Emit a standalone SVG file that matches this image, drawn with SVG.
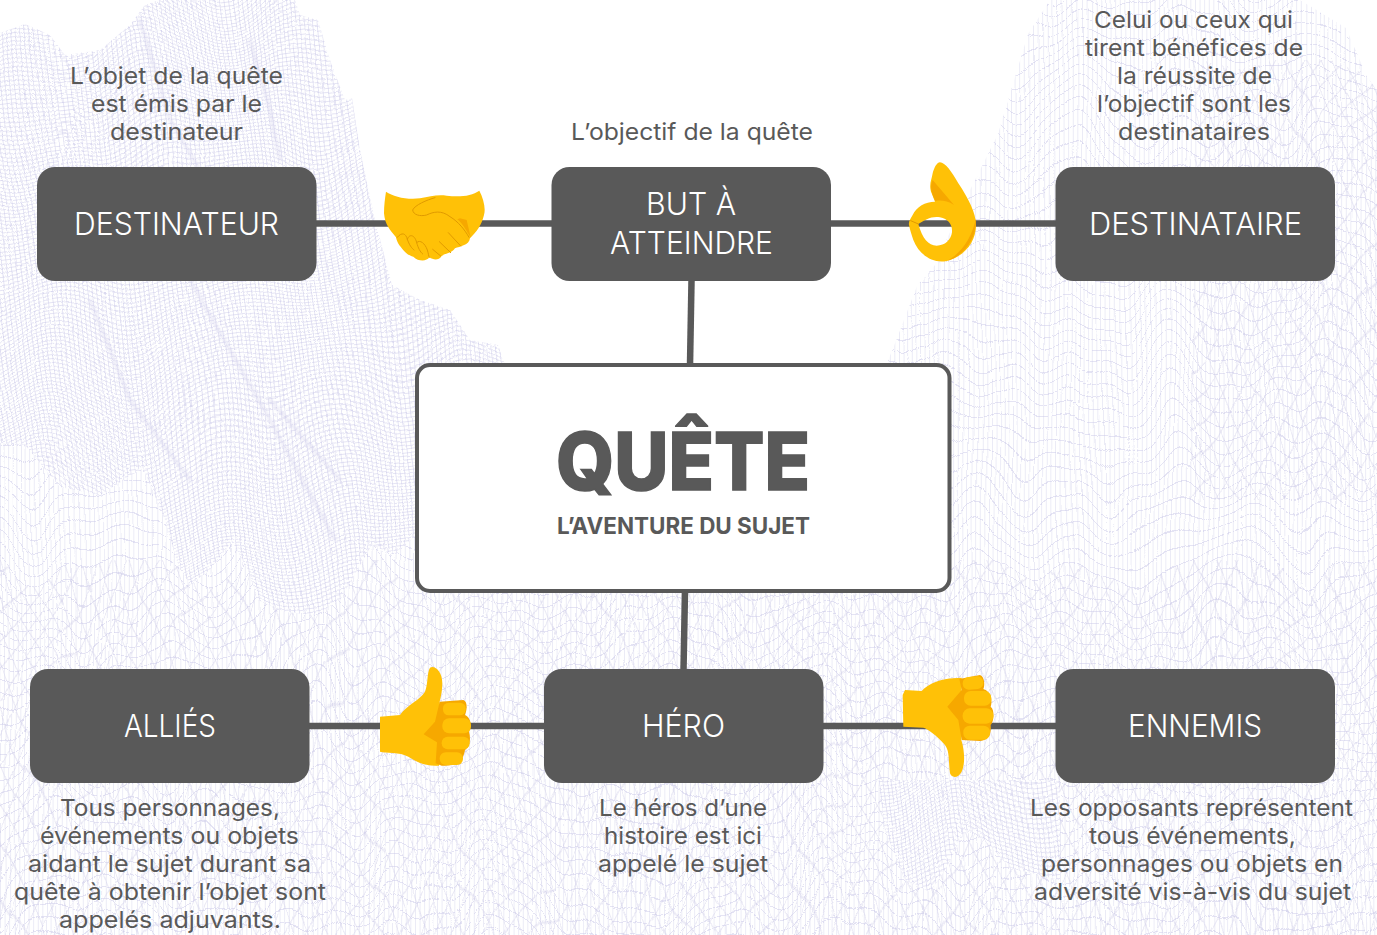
<svg xmlns="http://www.w3.org/2000/svg" width="1377" height="935" viewBox="0 0 1377 935">
<style>
.box{fill:#595959}
.t{font-family:"Inter","Liberation Sans",sans-serif;font-size:31px;font-weight:300;fill:#fff}
.d{font-family:"Inter","Liberation Sans",sans-serif;font-size:23.5px;font-weight:400;fill:#595959}
.c{stroke:#595959;stroke-width:6.5;fill:none}
.sk{fill:#ffc107}
.dk{fill:#f6a800}
.ln{fill:none;stroke:#e09a00;stroke-width:3;stroke-linecap:round;stroke-linejoin:round}
.rid{fill:none;stroke:#d9d7ef;stroke-linecap:round}
</style>
<defs>
<pattern id="fine" width="4.6" height="4" patternUnits="userSpaceOnUse" patternTransform="rotate(-7)">
<path d="M0 0V4M0 0H4.6" stroke="#c4c2e6" stroke-width=".85" fill="none"/>
</pattern>
<pattern id="vert" width="4.6" height="13" patternUnits="userSpaceOnUse">
<path d="M0 0V13" stroke="#d0ceea" stroke-width=".85" fill="none"/>
<path d="M0 0H4.6" stroke="#cbc9e8" stroke-width="1" fill="none"/>
</pattern>
<pattern id="diagA" width="15" height="15" patternUnits="userSpaceOnUse" patternTransform="rotate(68)">
<path d="M0 0H15" stroke="#d0ceea" stroke-width=".9" fill="none"/>
</pattern>
<pattern id="diagB" width="15" height="15" patternUnits="userSpaceOnUse" patternTransform="rotate(-62)">
<path d="M0 0H15" stroke="#d0ceea" stroke-width=".9" fill="none"/>
</pattern>
<filter id="warpF" x="0" y="0" width="100%" height="100%" color-interpolation-filters="sRGB">
<feTurbulence type="fractalNoise" baseFrequency="0.011 0.005" numOctaves="1" seed="4"/>
<feColorMatrix values=".25 0 0 0 .375  0 1 0 0 0  0 0 1 0 0  0 0 0 0 1" result="n"/>
<feDisplacementMap in="SourceGraphic" in2="n" scale="110" xChannelSelector="R" yChannelSelector="G"/>
<feGaussianBlur stdDeviation=".3"/>
</filter>
<filter id="warpC" x="0" y="0" width="100%" height="100%" color-interpolation-filters="sRGB">
<feTurbulence type="fractalNoise" baseFrequency="0.013 0.004" numOctaves="2" seed="11"/>
<feColorMatrix values=".12 0 0 0 .44  0 1 0 0 0  0 0 1 0 0  0 0 0 0 1" result="n"/>
<feDisplacementMap in="SourceGraphic" in2="n" scale="130" xChannelSelector="R" yChannelSelector="G"/>
<feGaussianBlur stdDeviation=".25"/>
</filter>
<filter id="soft" x="-20%" y="-20%" width="140%" height="140%"><feGaussianBlur stdDeviation="1.4"/></filter>
<clipPath id="cLeft"><path d="M0 33L25 24L50 35L65 55L100 50L130 25L145 5L160 0H295L300 15L318 20L330 60L345 100L352 98L360 150L375 220L392 285L420 300L450 310L470 340L498 345L512 385V640H0Z"/></clipPath>
<clipPath id="cRight"><path d="M880 380L894 346L917 286L935 265L960 210L998 134L1028 34L1050 0H1300L1346 28L1367 77L1377 90V560H880Z"/></clipPath>
<clipPath id="cFront"><path d="M0 443L25 445L60 487L100 495L143 468L165 520L178 565L190 585L210 570L232 541L248 570L258 600L285 612L315 615L340 600L360 565L372 545L395 555L416 535L680 520L950 500H1377V935H0Z"/></clipPath>
<clipPath id="cPatch"><path d="M878 780H1060V880L1010 868L985 840L965 832L945 870L930 892L905 880L885 830Z"/></clipPath>
</defs>

<g id="background">
<rect width="1377" height="935" fill="#fff"/>
<g clip-path="url(#cLeft)">
<rect x="-70" y="-70" width="720" height="800" fill="url(#fine)" filter="url(#warpF)"/>
<g filter="url(#soft)" opacity=".55">
<path class="rid" stroke-width="3" d="M90 300L130 400L190 480"/>
<path class="rid" stroke-width="3" d="M190 280L270 420L335 540"/>
<path class="rid" stroke-width="3" d="M270 400L340 480"/>
<path class="rid" stroke-width="3" d="M140 20L170 120L200 170"/>
<path class="rid" stroke-width="3" d="M250 40L270 110L280 160"/>
</g>
</g>
<g clip-path="url(#cRight)">
<rect x="860" y="-70" width="580" height="690" fill="url(#vert)" filter="url(#warpC)"/>
<rect x="1190" y="60" width="260" height="560" fill="url(#diagA)" filter="url(#warpC)"/>
<rect x="1190" y="60" width="260" height="560" fill="url(#diagB)" filter="url(#warpC)"/>
</g>
<g clip-path="url(#cFront)">
<rect width="1377" height="935" fill="#fff"/>
<rect x="-70" y="400" width="1520" height="610" fill="url(#vert)" filter="url(#warpC)"/>
<rect x="-70" y="560" width="1520" height="450" fill="url(#diagA)" filter="url(#warpC)"/>
<rect x="-70" y="560" width="1520" height="450" fill="url(#diagB)" filter="url(#warpC)"/>
</g>
<g clip-path="url(#cPatch)">
<rect x="860" y="760" width="240" height="160" fill="#fff"/>
<rect x="800" y="700" width="340" height="260" fill="url(#fine)" filter="url(#warpF)"/>
</g>
</g>

<g id="connectors">
<path class="c" d="M316 223.5H552"/>
<path class="c" d="M831 223.5H1056"/>
<path class="c" d="M691.5 281L690 365"/>
<path class="c" d="M685 591L683.5 670"/>
<path class="c" d="M309 726H544"/>
<path class="c" d="M823 726H1056"/>
</g>

<g id="node-quete">
<rect x="417" y="365" width="532.5" height="226" rx="13" fill="#fff" stroke="#595959" stroke-width="4"/>
<text x="556" y="490" textLength="254" lengthAdjust="spacingAndGlyphs" font-family="Inter, 'Liberation Sans', sans-serif" font-size="80" font-weight="800" fill="#595959" stroke="#595959" stroke-width="1.5">QUÊTE</text>
<text x="557" y="534" textLength="253" lengthAdjust="spacingAndGlyphs" font-family="Inter, 'Liberation Sans', sans-serif" font-size="23" font-weight="700" fill="#595959">L’AVENTURE DU SUJET</text>
</g>

<g id="node-destinateur">
<rect class="box" x="37" y="167" width="279.5" height="114" rx="18"/>
<text class="t" x="74" y="235" textLength="205" lengthAdjust="spacingAndGlyphs">DESTINATEUR</text>
<text class="d" x="70" y="84" textLength="213" lengthAdjust="spacingAndGlyphs">L’objet de la quête</text>
<text class="d" x="91" y="112" textLength="171" lengthAdjust="spacingAndGlyphs">est émis par le</text>
<text class="d" x="110" y="140" textLength="133" lengthAdjust="spacingAndGlyphs">destinateur</text>
</g>

<g id="node-but">
<rect class="box" x="551.5" y="167" width="279.5" height="114" rx="18"/>
<text class="t" x="646" y="215" textLength="90" lengthAdjust="spacingAndGlyphs">BUT À</text>
<text class="t" x="610" y="254" textLength="163" lengthAdjust="spacingAndGlyphs">ATTEINDRE</text>
<text class="d" x="571" y="140" textLength="242" lengthAdjust="spacingAndGlyphs">L’objectif de la quête</text>
</g>

<g id="node-destinataire">
<rect class="box" x="1055.5" y="167" width="279.5" height="114" rx="18"/>
<text class="t" x="1089" y="235" textLength="213" lengthAdjust="spacingAndGlyphs">DESTINATAIRE</text>
<text class="d" x="1094" y="28" textLength="199" lengthAdjust="spacingAndGlyphs">Celui ou ceux qui</text>
<text class="d" x="1085" y="56" textLength="218" lengthAdjust="spacingAndGlyphs">tirent bénéfices de</text>
<text class="d" x="1117" y="84" textLength="155" lengthAdjust="spacingAndGlyphs">la réussite de</text>
<text class="d" x="1097" y="112" textLength="194" lengthAdjust="spacingAndGlyphs">l’objectif sont les</text>
<text class="d" x="1118" y="140" textLength="152" lengthAdjust="spacingAndGlyphs">destinataires</text>
</g>

<g id="node-allies">
<rect class="box" x="30" y="669" width="279.5" height="114" rx="18"/>
<text class="t" x="124" y="737" textLength="92" lengthAdjust="spacingAndGlyphs">ALLIÉS</text>
<text class="d" x="60" y="816" textLength="220" lengthAdjust="spacingAndGlyphs">Tous personnages,</text>
<text class="d" x="40" y="844" textLength="259" lengthAdjust="spacingAndGlyphs">événements ou objets</text>
<text class="d" x="28" y="872" textLength="283" lengthAdjust="spacingAndGlyphs">aidant le sujet durant sa</text>
<text class="d" x="14" y="900" textLength="312" lengthAdjust="spacingAndGlyphs">quête à obtenir l’objet sont</text>
<text class="d" x="59" y="928" textLength="222" lengthAdjust="spacingAndGlyphs">appelés adjuvants.</text>
</g>

<g id="node-hero">
<rect class="box" x="544" y="669" width="279.5" height="114" rx="18"/>
<text class="t" x="642" y="737" textLength="83" lengthAdjust="spacingAndGlyphs">HÉRO</text>
<text class="d" x="599" y="816" textLength="168" lengthAdjust="spacingAndGlyphs">Le héros d’une</text>
<text class="d" x="604" y="844" textLength="158" lengthAdjust="spacingAndGlyphs">histoire est ici</text>
<text class="d" x="598" y="872" textLength="170" lengthAdjust="spacingAndGlyphs">appelé le sujet</text>
</g>

<g id="node-ennemis">
<rect class="box" x="1055.5" y="669" width="279.5" height="114" rx="18"/>
<text class="t" x="1128" y="737" textLength="134" lengthAdjust="spacingAndGlyphs">ENNEMIS</text>
<text class="d" x="1030" y="816" textLength="323" lengthAdjust="spacingAndGlyphs">Les opposants représentent</text>
<text class="d" x="1089" y="844" textLength="207" lengthAdjust="spacingAndGlyphs">tous événements,</text>
<text class="d" x="1041" y="872" textLength="302" lengthAdjust="spacingAndGlyphs">personnages ou objets en</text>
<text class="d" x="1034" y="900" textLength="317" lengthAdjust="spacingAndGlyphs">adversité vis-à-vis du sujet</text>
</g>

<g id="icon-handshake" transform="translate(370 150) scale(.3333)">
<path class="sk" d="M48 125C70 140 110 150 150 145C180 140 200 133 230 137C270 142 305 138 328 122C340 145 348 175 342 195C335 225 320 245 300 265C298 285 270 290 255 295C245 310 225 310 215 318C205 333 190 330 178 322C170 335 145 335 130 320C110 315 100 300 92 290C85 285 78 265 78 262C60 240 45 225 42 190C42 165 45 145 48 125Z"/>
<path class="dk" d="M270 205L290 210L302 262C290 245 280 222 262 208Z"/>
<path class="ln" d="M195 143C170 150 135 165 128 180C130 195 150 200 170 195C190 185 215 180 240 200C265 215 285 240 297 262"/>
<path class="ln" d="M82 262C95 245 108 250 112 268C118 250 135 255 140 278C150 268 165 280 172 300C176 312 175 318 178 322M112 268C118 285 125 295 132 300M140 278C145 295 150 305 158 312"/>
<path class="ln" d="M235 248L272 288M208 275L242 308M188 298L212 318"/>
</g>

<g id="icon-ok" transform="translate(890 150) scale(.3333)">
<path class="sk" fill-rule="evenodd" d="M150 37C165 37 185 65 205 100C235 145 258 190 258 225C258 280 220 320 170 333C125 342 85 310 70 270C65 255 60 240 57 225C55 215 62 205 68 195C80 170 105 155 135 155L125 130C115 105 125 90 128 70C132 55 140 37 150 37ZM85 222C105 210 125 197 150 202C175 207 188 225 186 247C183 270 165 287 140 287C115 287 97 265 85 222Z"/>
<path class="dk" d="M128 90L192 165C172 152 152 150 136 153C125 130 118 110 128 90Z"/>
<path class="dk" d="M258 205C262 260 225 318 170 333C215 310 245 265 258 205Z"/>
<path class="ln" d="M62 212L85 222"/>
</g>

<g id="icon-thumbup" transform="translate(365 655) scale(.3333)">
<path class="sk" d="M45 185L105 180C125 150 165 135 180 110C190 85 185 55 195 38C210 30 232 50 232 85C232 105 228 125 224 140L225 300L222 332C190 335 160 325 130 305C105 290 60 295 45 290Z"/>
<path class="dk" d="M224 140L295 135C310 140 305 170 300 180C320 190 320 215 312 230C318 250 315 275 300 285C295 320 270 335 230 332L212 325L216 262L176 238L210 200Z"/>
<rect class="sk" x="234" y="143" width="68" height="38" rx="17"/>
<rect class="sk" x="232" y="190" width="86" height="45" rx="20"/>
<rect class="sk" x="230" y="245" width="84" height="38" rx="18"/>
<rect class="sk" x="224" y="292" width="70" height="38" rx="18"/>
</g>

<g id="icon-thumbdown" transform="translate(890 665) scale(.3333)">
<path class="sk" d="M38 90L45 75L95 78C115 55 160 40 190 40L215 38L214 225C225 260 225 300 215 320C205 340 185 340 180 325C175 290 180 260 165 240C145 215 110 190 100 188L40 185Z"/>
<path class="dk" d="M208 42L270 30C285 35 285 65 280 72C305 80 308 110 302 125C315 135 312 170 302 180C305 210 295 225 270 228L215 225L205 165L172 125L215 75Z"/>
<rect class="sk" x="218" y="35" width="62" height="38" rx="18" transform="rotate(-5 249 54)"/>
<rect class="sk" x="222" y="78" width="82" height="44" rx="20"/>
<rect class="sk" x="218" y="130" width="92" height="46" rx="21"/>
<rect class="sk" x="220" y="182" width="80" height="42" rx="19"/>
</g>
</svg>
